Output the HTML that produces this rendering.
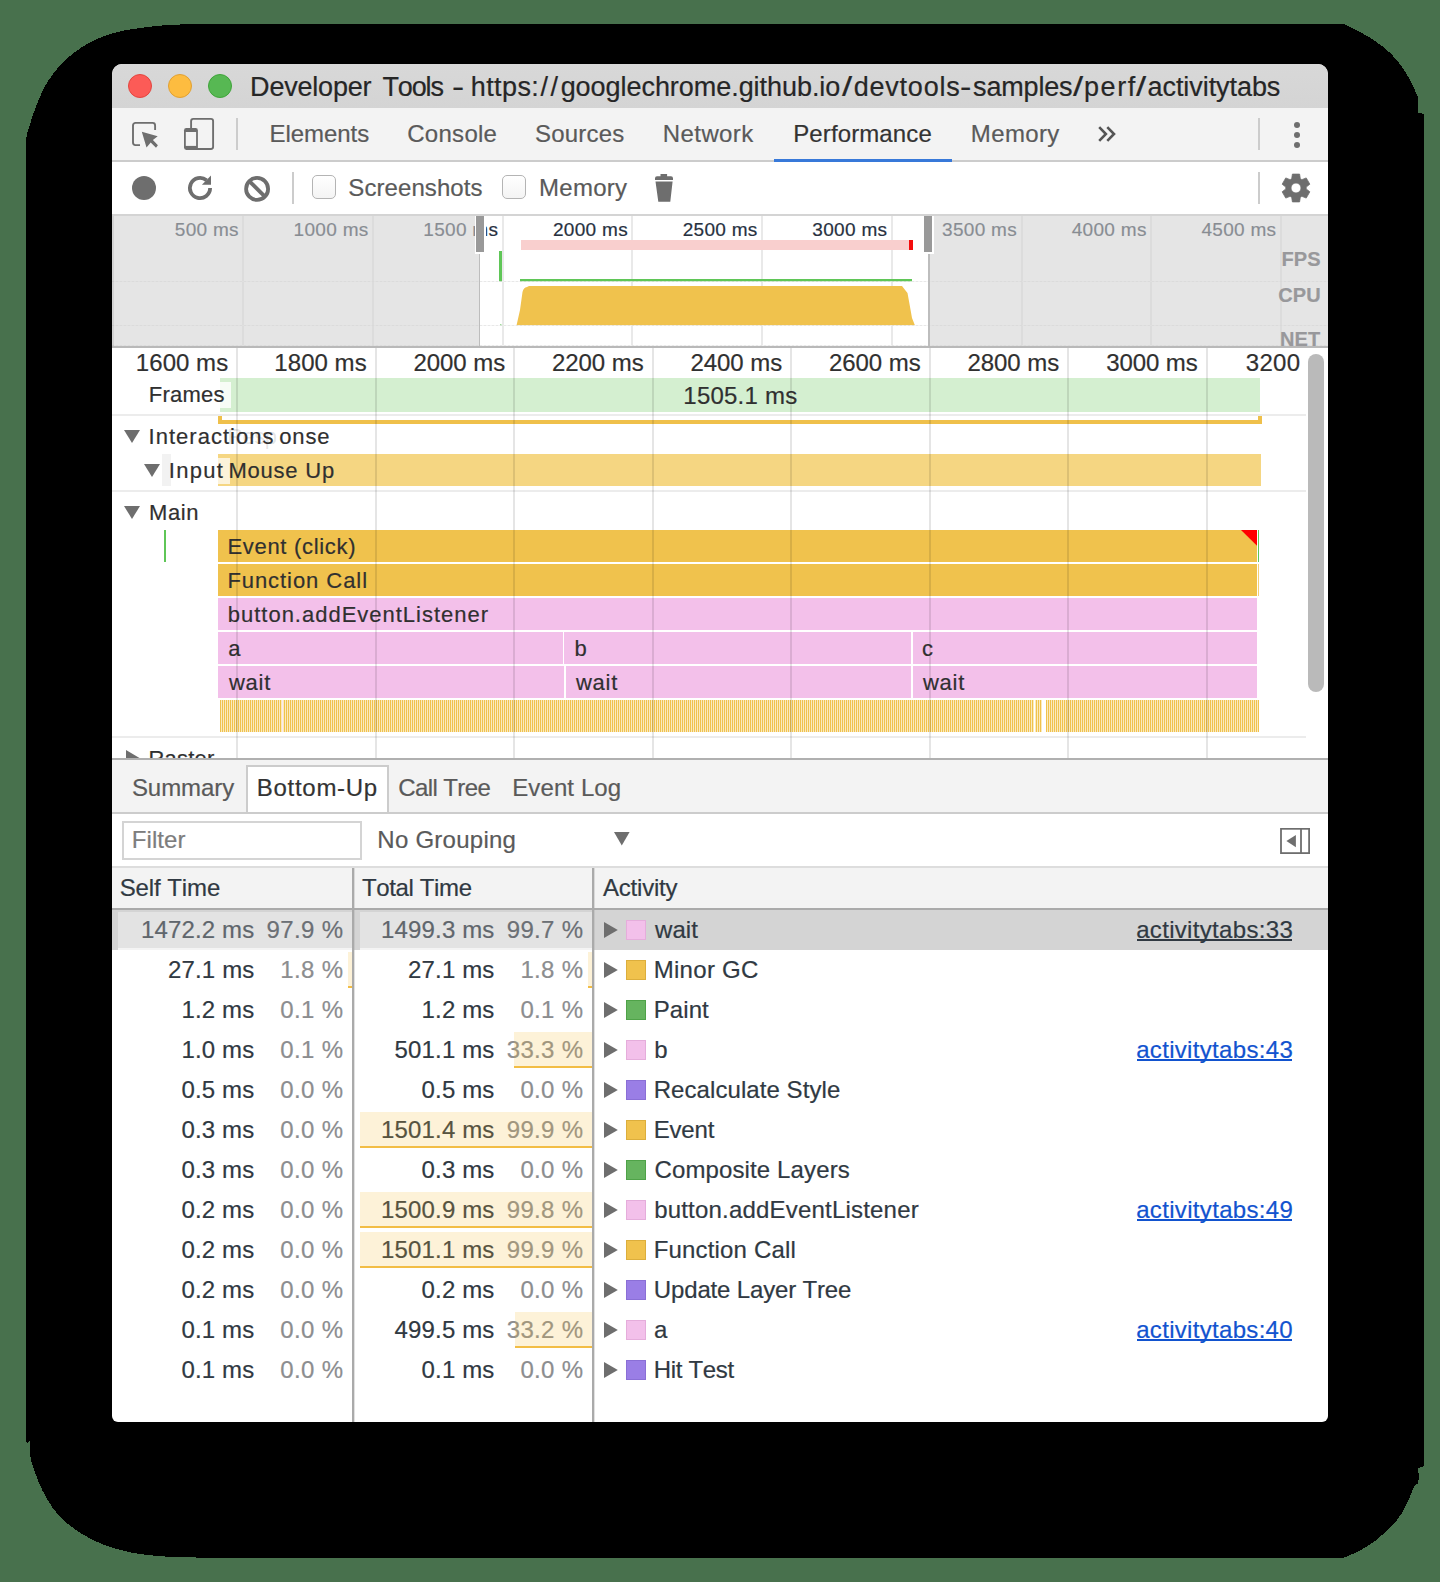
<!DOCTYPE html>
<html><head><meta charset="utf-8"><title>Developer Tools</title>
<style>
html,body{margin:0;padding:0}
body{width:1440px;height:1582px;overflow:hidden;background:#48714d;position:relative;font-family:"Liberation Sans",sans-serif}
#root div,#root span,#root svg{position:absolute;box-sizing:border-box}
#root span{white-space:pre;display:block;font-kerning:none;font-variant-ligatures:none;-webkit-text-stroke:0.2px}
#root{position:absolute;left:0;top:0;width:1440px;height:1582px;overflow:hidden}
</style></head><body><div id="root">
<svg style="left:0px;top:0px;" width="1440" height="1582" viewBox="0 0 1440 1582"><path d="M26,166 C26.0,161.7 25.2,147.2 26.0,140.0 C26.8,132.8 29.1,127.6 30.6,122.5 C32.1,117.4 32.6,115.4 35.0,109.3 C37.4,103.2 41.1,93.3 45.2,86.0 C49.3,78.7 54.9,71.2 59.8,65.6 C64.6,60.0 69.4,56.3 74.3,52.5 C79.2,48.7 84.0,45.7 88.9,43.0 C93.8,40.3 98.7,38.2 103.5,36.4 C108.3,34.6 113.1,33.2 118.0,32.0 C122.9,30.8 125.4,30.2 132.7,29.1 C140.0,28.0 152.1,26.3 161.8,25.5 C171.5,24.7 180.3,24.4 191.0,24.2 C201.7,23.9 220.2,24.0 226.0,24.0 L1343.75,24 C1346.7,25.5 1356.0,29.9 1361.3,32.8 C1366.6,35.7 1370.9,38.1 1375.8,41.5 C1380.7,44.9 1386.0,49.0 1390.4,53.2 C1394.8,57.5 1398.6,62.3 1402.0,67.0 C1405.4,71.7 1408.4,77.1 1410.8,81.6 C1413.2,86.1 1415.2,90.9 1416.5,94.0 C1417.8,97.1 1418.0,96.9 1418.3,100.0 C1418.6,103.1 1418.3,110.4 1418.3,112.5 L1424,114 L1424,1466 L1418.3,1468 C1418.3,1470.3 1419.0,1478.9 1418.3,1482.0 C1417.6,1485.1 1415.4,1484.0 1414.0,1486.4 C1412.6,1488.8 1411.6,1493.1 1410.1,1496.6 C1408.6,1500.1 1407.1,1503.7 1405.0,1507.5 C1402.9,1511.3 1400.4,1515.7 1397.7,1519.2 C1395.0,1522.7 1392.7,1525.1 1389.0,1528.6 C1385.3,1532.1 1380.4,1536.8 1375.8,1540.3 C1371.2,1543.8 1366.6,1546.9 1361.2,1549.8 C1355.9,1552.7 1346.7,1556.5 1343.8,1557.8 L226,1557.8 C217.7,1557.7 189.5,1557.6 176.4,1557.1 C163.3,1556.6 155.8,1555.9 147.2,1554.9 C138.8,1553.9 132.7,1553.0 125.4,1551.2 C118.1,1549.5 110.8,1547.6 103.5,1544.7 C96.2,1541.8 88.2,1537.8 81.6,1533.8 C75.0,1529.7 68.9,1525.0 64.1,1520.6 C59.2,1516.2 56.1,1512.6 52.5,1507.5 C48.9,1502.4 45.2,1495.8 42.2,1490.0 C39.3,1484.2 36.9,1477.8 35.0,1472.5 C33.1,1467.2 31.5,1463.0 30.6,1457.9 C29.8,1452.8 30.7,1445.0 29.9,1442.0 C29.1,1439.0 26.6,1447.0 26.0,1440.0 C25.4,1433.0 26.0,1406.7 26.0,1400.0 Z" fill="#000" shape-rendering="crispEdges"/></svg>
<div style="left:112px;top:64px;width:1216px;height:1358px;background:#fff;border-radius:10px 10px 6px 6px;overflow:hidden">
<div style="left:-112px;top:-64px;width:1440px;height:1582px">
<div style="left:112px;top:64px;width:1216px;height:44px;background:linear-gradient(#d8d8d8,#d4d4d4);"></div>
<div style="left:128px;top:74px;width:24px;height:24px;border-radius:12px;background:#fc5b57;border:1px solid #e2463f"></div>
<div style="left:168px;top:74px;width:24px;height:24px;border-radius:12px;background:#fdbc40;border:1px solid #e0a033"></div>
<div style="left:208px;top:74px;width:24px;height:24px;border-radius:12px;background:#57b853;border:1px solid #3fa43a"></div>
<span style="left:250.09px;top:71.50px;font-size:27px;line-height:30px;color:#262626;letter-spacing:-0.201px;">Developer</span>
<span style="left:382.49px;top:71.50px;font-size:27px;line-height:30px;color:#262626;letter-spacing:-1.135px;">Tools</span>
<span style="left:451.73px;top:71.50px;font-size:27px;line-height:30px;color:#262626;letter-spacing:0.000px;transform:scaleX(1.3500);transform-origin:0 0;">-</span>
<span style="left:470.73px;top:71.50px;font-size:27px;line-height:30px;color:#262626;letter-spacing:0.420px;">https:</span>
<span style="left:540.60px;top:71.50px;font-size:27px;line-height:30px;color:#262626;letter-spacing:2.500px;">//</span>
<span style="left:560.67px;top:71.50px;font-size:27px;line-height:30px;color:#262626;letter-spacing:-0.049px;">googlechrome.github.io</span>
<span style="left:842.24px;top:71.50px;font-size:27px;line-height:30px;color:#262626;letter-spacing:0.000px;transform:scaleX(1.3500);transform-origin:0 0;">/</span>
<span style="left:853.67px;top:71.50px;font-size:27px;line-height:30px;color:#262626;letter-spacing:0.792px;">devtools</span>
<span style="left:960.49px;top:71.50px;font-size:27px;line-height:30px;color:#262626;letter-spacing:0.000px;transform:scaleX(1.2591);transform-origin:0 0;">-</span>
<span style="left:973.05px;top:71.50px;font-size:27px;line-height:30px;color:#262626;letter-spacing:-0.169px;">samples</span>
<span style="left:1073.44px;top:71.50px;font-size:27px;line-height:30px;color:#262626;letter-spacing:0.000px;transform:scaleX(1.3500);transform-origin:0 0;">/</span>
<span style="left:1083.96px;top:71.50px;font-size:27px;line-height:30px;color:#262626;letter-spacing:1.592px;">perf</span>
<span style="left:1136.34px;top:71.50px;font-size:27px;line-height:30px;color:#262626;letter-spacing:0.000px;transform:scaleX(1.3500);transform-origin:0 0;">/</span>
<span style="left:1147.55px;top:71.50px;font-size:27px;line-height:30px;color:#262626;letter-spacing:-0.066px;">activitytabs</span>
<div style="left:112px;top:108px;width:1216px;height:52px;background:#f3f3f3;"></div>
<div style="left:112px;top:160px;width:1216px;height:2px;background:#cccccc;"></div>
<div style="left:774px;top:159px;width:178px;height:3px;background:#3879d9;"></div>
<span style="left:269.53px;top:119.60px;font-size:24px;line-height:27px;color:#5a5a5a;letter-spacing:-0.058px;">Elements</span>
<span style="left:407.28px;top:119.60px;font-size:24px;line-height:27px;color:#5a5a5a;letter-spacing:0.272px;">Console</span>
<span style="left:535.11px;top:119.60px;font-size:24px;line-height:27px;color:#5a5a5a;letter-spacing:0.169px;">Sources</span>
<span style="left:662.83px;top:119.60px;font-size:24px;line-height:27px;color:#5a5a5a;letter-spacing:0.402px;">Network</span>
<span style="left:793.23px;top:119.60px;font-size:24px;line-height:27px;color:#333333;letter-spacing:0.114px;">Performance</span>
<span style="left:970.83px;top:119.60px;font-size:24px;line-height:27px;color:#5a5a5a;letter-spacing:0.369px;">Memory</span>
<div style="left:236px;top:118px;width:2px;height:32px;background:#cccccc;"></div>
<div style="left:1258px;top:118px;width:2px;height:32px;background:#cccccc;"></div>
<svg style="left:130px;top:120px;" width="32" height="32" viewBox="0 0 32 32"><path d="M25.1,9.9 V5.4 a2.5,2.5 0 0 0 -2.5,-2.5 H5.5 a2.5,2.5 0 0 0 -2.5,2.5 V22.6 a2.5,2.5 0 0 0 2.5,2.5 H10" fill="none" stroke="#6e6e6e" stroke-width="1.9"/><path d="M11.8,11.8 L27.7,16.2 L22.9,19.9 L27.9,25.3 L26,27.7 L20.7,22.4 L16.5,27.4 Z" fill="#6e6e6e"/></svg>
<svg style="left:182px;top:116px;" width="36" height="36" viewBox="0 0 36 36"><rect x="9.1" y="2.9" width="22" height="30.1" rx="2.2" fill="none" stroke="#6e6e6e" stroke-width="1.9"/><rect x="2" y="12" width="13.9" height="21.9" rx="2.4" fill="#6e6e6e"/><rect x="3.8" y="16" width="10.3" height="13.9" fill="#f3f3f3"/></svg>
<svg style="left:1096px;top:124px;" width="24" height="20" viewBox="0 0 24 20"><path d="M3.2,3.2 L9.9,10 L3.2,16.8 M11.3,3.2 L18,10 L11.3,16.8" fill="none" stroke="#555555" stroke-width="2.6"/></svg>
<div style="left:1293.9px;top:121.9px;width:6.2px;height:6.2px;border-radius:3.1px;background:#6e6e6e"></div>
<div style="left:1293.9px;top:131.9px;width:6.2px;height:6.2px;border-radius:3.1px;background:#6e6e6e"></div>
<div style="left:1293.9px;top:141.9px;width:6.2px;height:6.2px;border-radius:3.1px;background:#6e6e6e"></div>
<div style="left:112px;top:162px;width:1216px;height:52px;background:#ffffff;"></div>
<div style="left:112px;top:214px;width:1216px;height:2px;background:#d4d4d4;"></div>
<div style="left:132px;top:176px;width:24px;height:24px;border-radius:12px;background:#6e6e6e"></div>
<svg style="left:180px;top:168px;" width="40" height="40" viewBox="0 0 40 40"><path d="M30.1,20 A10.1,10.1 0 1 1 26.5,12.3" fill="none" stroke="#6e6e6e" stroke-width="3.8"/><path d="M31,7.5 V16.8 H21.9 Z" fill="#6e6e6e"/></svg>
<svg style="left:237px;top:169px;" width="40" height="40" viewBox="0 0 40 40"><circle cx="20.1" cy="19.9" r="11" fill="none" stroke="#6e6e6e" stroke-width="3.8"/><path d="M12.3,12.1 L27.9,27.7" stroke="#6e6e6e" stroke-width="3.8"/></svg>
<div style="left:292px;top:172px;width:2px;height:32px;background:#cccccc;"></div>
<div style="left:1258px;top:172px;width:2px;height:32px;background:#cccccc;"></div>
<div style="left:312px;top:175px;width:24px;height:24px;border-radius:5px;background:linear-gradient(#ffffff,#f4f4f4);border:1.5px solid #b4b4b4"></div>
<div style="left:502px;top:175px;width:24px;height:24px;border-radius:5px;background:linear-gradient(#ffffff,#f4f4f4);border:1.5px solid #b4b4b4"></div>
<span style="left:348.31px;top:174.00px;font-size:24px;line-height:27px;color:#5a5a5a;letter-spacing:0.085px;">Screenshots</span>
<span style="left:539.03px;top:174.00px;font-size:24px;line-height:27px;color:#5a5a5a;letter-spacing:0.269px;">Memory</span>
<svg style="left:652px;top:172px;" width="24" height="32" viewBox="0 0 24 32"><path d="M8.5,2 H15.1 V5 H8.5 Z M3,8 V6.2 a2,2 0 0 1 2,-2 H19 a2,2 0 0 1 2,2 V8 Z M3.5,9.4 H20.6 L18.3,29.8 H6.3 Z" fill="#6e6e6e"/></svg>
<svg style="left:1280px;top:172px;" width="32" height="32" viewBox="0 0 32 32"><path d="M11.70,6.70 L12.40,2.10 L19.60,2.10 L20.30,6.70 L21.90,7.63 L26.24,5.93 L29.84,12.17 L26.20,15.07 L26.20,16.93 L29.84,19.83 L26.24,26.07 L21.90,24.37 L20.30,25.30 L19.60,29.90 L12.40,29.90 L11.70,25.30 L10.10,24.37 L5.76,26.07 L2.16,19.83 L5.80,16.93 L5.80,15.07 L2.16,12.17 L5.76,5.93 L10.10,7.63 Z M21.0,16 A5.0,5.0 0 1 0 11.0,16 A5.0,5.0 0 1 0 21.0,16 Z" fill="#6e6e6e" fill-rule="evenodd" stroke="#6e6e6e" stroke-width="0.8" stroke-linejoin="round"/></svg>
<div style="left:112px;top:216px;width:1216px;height:130px;background:#ffffff;"></div>
<div style="left:242px;top:216px;width:2px;height:130px;background:rgba(0,0,0,0.085);"></div>
<div style="left:372px;top:216px;width:2px;height:130px;background:rgba(0,0,0,0.085);"></div>
<div style="left:502px;top:216px;width:2px;height:130px;background:rgba(0,0,0,0.085);"></div>
<div style="left:631px;top:216px;width:2px;height:130px;background:rgba(0,0,0,0.085);"></div>
<div style="left:761px;top:216px;width:2px;height:130px;background:rgba(0,0,0,0.085);"></div>
<div style="left:891px;top:216px;width:2px;height:130px;background:rgba(0,0,0,0.085);"></div>
<div style="left:1021px;top:216px;width:2px;height:130px;background:rgba(0,0,0,0.085);"></div>
<div style="left:1150px;top:216px;width:2px;height:130px;background:rgba(0,0,0,0.085);"></div>
<div style="left:1280px;top:216px;width:2px;height:130px;background:rgba(0,0,0,0.085);"></div>
<div style="left:521px;top:240px;width:388px;height:10px;background:#f9cfce;"></div>
<div style="left:909px;top:240px;width:4px;height:10px;background:#f40c0c;"></div>
<div style="left:499px;top:251px;width:3px;height:31px;background:#5fc657;"></div>
<div style="left:520px;top:279px;width:392px;height:2.5px;background:#5fc657;"></div>
<svg style="left:500px;top:280px;" width="430" height="50" viewBox="0 0 430 50"><path d="M16.5,45.6 L20,30 L22.5,12 Q23.5,7.5 27,7 L29,6 L402,6 L405.5,10.5 L407.5,13 L409.5,24 L412,38 L415,45.6 Z" fill="#f0c24d"/><path d="M-6,45.6 L0,44.2 L4,45.6Z" fill="#5fc657"/></svg>
<div style="left:112px;top:280.5px;width:1216px;height:1px;background:repeating-linear-gradient(90deg,#e2e2e2 0 2px,#f2f2f2 2px 4px);opacity:.8"></div>
<div style="left:112px;top:324.5px;width:1216px;height:1px;background:repeating-linear-gradient(90deg,#e2e2e2 0 2px,#f2f2f2 2px 4px);opacity:.8"></div>
<div style="left:112px;top:344.5px;width:1216px;height:1px;background:repeating-linear-gradient(90deg,#e2e2e2 0 2px,#f2f2f2 2px 4px);opacity:.8"></div>
<span style="left:174.78px;top:219.00px;font-size:19px;line-height:21px;color:#27313f;letter-spacing:0.300px;">500 ms</span>
<span style="left:293.60px;top:219.00px;font-size:19px;line-height:21px;color:#27313f;letter-spacing:0.300px;">1000 ms</span>
<span style="left:423.29px;top:219.00px;font-size:19px;line-height:21px;color:#27313f;letter-spacing:0.300px;">1500 ms</span>
<span style="left:552.98px;top:219.00px;font-size:19px;line-height:21px;color:#27313f;letter-spacing:0.300px;">2000 ms</span>
<span style="left:682.67px;top:219.00px;font-size:19px;line-height:21px;color:#27313f;letter-spacing:0.300px;">2500 ms</span>
<span style="left:812.36px;top:219.00px;font-size:19px;line-height:21px;color:#27313f;letter-spacing:0.300px;">3000 ms</span>
<span style="left:942.05px;top:219.00px;font-size:19px;line-height:21px;color:#27313f;letter-spacing:0.300px;">3500 ms</span>
<span style="left:1071.74px;top:219.00px;font-size:19px;line-height:21px;color:#27313f;letter-spacing:0.300px;">4000 ms</span>
<span style="left:1201.43px;top:219.00px;font-size:19px;line-height:21px;color:#27313f;letter-spacing:0.300px;">4500 ms</span>
<div style="left:112px;top:216px;width:367px;height:130px;background:rgba(209,209,209,0.57);"></div>
<div style="left:929px;top:216px;width:399px;height:130px;background:rgba(209,209,209,0.57);"></div>
<div style="left:478.5px;top:216px;width:1.5px;height:130px;background:#bdbdbd;"></div>
<div style="left:928px;top:216px;width:1.5px;height:130px;background:#bdbdbd;"></div>
<div style="left:474.5px;top:216px;width:11px;height:37.5px;background:#ffffff;"></div>
<div style="left:476px;top:216px;width:8px;height:36px;background:#999999;"></div>
<div style="left:922.5px;top:216px;width:11px;height:37.5px;background:#ffffff;"></div>
<div style="left:924px;top:216px;width:8px;height:36px;background:#999999;"></div>
<div style="left:112px;top:216px;width:2px;height:130px;background:rgba(0,0,0,0.08);"></div>
<span style="left:1281.48px;top:247.50px;font-size:20px;line-height:22px;color:#98989b;letter-spacing:0.100px;font-weight:bold;">FPS</span>
<span style="left:1278.29px;top:283.50px;font-size:20px;line-height:22px;color:#98989b;letter-spacing:0.100px;font-weight:bold;">CPU</span>
<span style="left:1280.01px;top:327.80px;font-size:20px;line-height:22px;color:#98989b;letter-spacing:0.100px;font-weight:bold;">NET</span>
<div style="left:112px;top:346px;width:1216px;height:2px;background:#b9b9b9;"></div>
<span style="left:135.87px;top:348.80px;font-size:24px;line-height:27px;color:#303030;letter-spacing:0.041px;">1600 ms</span>
<span style="left:274.37px;top:348.80px;font-size:24px;line-height:27px;color:#303030;letter-spacing:0.041px;">1800 ms</span>
<span style="left:413.49px;top:348.80px;font-size:24px;line-height:27px;color:#303030;letter-spacing:-0.063px;">2000 ms</span>
<span style="left:551.99px;top:348.80px;font-size:24px;line-height:27px;color:#303030;letter-spacing:-0.063px;">2200 ms</span>
<span style="left:690.49px;top:348.80px;font-size:24px;line-height:27px;color:#303030;letter-spacing:-0.063px;">2400 ms</span>
<span style="left:828.99px;top:348.80px;font-size:24px;line-height:27px;color:#303030;letter-spacing:-0.063px;">2600 ms</span>
<span style="left:967.49px;top:348.80px;font-size:24px;line-height:27px;color:#303030;letter-spacing:-0.063px;">2800 ms</span>
<span style="left:1106.29px;top:348.80px;font-size:24px;line-height:27px;color:#303030;letter-spacing:-0.112px;">3000 ms</span>
<span style="left:1245.79px;top:348.80px;font-size:24px;line-height:27px;color:#303030;letter-spacing:0.320px;">3200</span>
<div style="left:220px;top:378px;width:1040px;height:34px;background:#d4efd0;"></div>
<div style="left:220px;top:382px;width:11px;height:26px;background:rgba(255,255,255,0.8);"></div>
<span style="left:683.37px;top:381.80px;font-size:24px;line-height:27px;color:#303030;letter-spacing:0.216px;">1505.1 ms</span>
<span style="left:148.70px;top:381.70px;font-size:22px;line-height:25px;color:#303030;letter-spacing:0.258px;">Frames</span>
<div style="left:112px;top:414px;width:1194px;height:2px;background:#ececec;"></div>
<div style="left:218px;top:420px;width:1044px;height:4px;background:#efc04b;"></div>
<div style="left:218px;top:416px;width:4px;height:8px;background:#efc04b;"></div>
<div style="left:1258px;top:416px;width:4px;height:8px;background:#efc04b;"></div>
<svg style="left:124px;top:430px;" width="16" height="13" viewBox="0 0 16 13"><path d="M0,0 H16 L8,13 Z" fill="#6e6e6e"/></svg>
<span style="left:279.28px;top:424.20px;font-size:22px;line-height:25px;color:#303030;letter-spacing:0.832px;">onse</span>
<span style="left:227.20px;top:424.20px;font-size:22px;line-height:25px;color:rgba(48,48,48,0.13);letter-spacing:-0.543px;">Resp</span>
<span style="left:148.57px;top:424.20px;font-size:22px;line-height:25px;color:#303030;letter-spacing:1.018px;">Interactions</span>
<div style="left:218px;top:454px;width:1043px;height:32px;background:#f5d682;"></div>
<div style="left:218px;top:458px;width:12px;height:26px;background:rgba(255,255,255,0.7);"></div>
<div style="left:162px;top:454px;width:9px;height:32px;background:rgba(0,0,0,0.05);"></div>
<svg style="left:144px;top:464.2px;" width="16" height="13" viewBox="0 0 16 13"><path d="M0,0 H16 L8,13 Z" fill="#6e6e6e"/></svg>
<span style="left:168.77px;top:457.60px;font-size:22px;line-height:25px;color:#303030;letter-spacing:1.290px;">Input</span>
<span style="left:228.40px;top:457.60px;font-size:22px;line-height:25px;color:#303030;letter-spacing:0.780px;">Mouse Up</span>
<div style="left:112px;top:490px;width:1194px;height:2px;background:#ececec;"></div>
<svg style="left:124px;top:506px;" width="16" height="13" viewBox="0 0 16 13"><path d="M0,0 H16 L8,13 Z" fill="#6e6e6e"/></svg>
<span style="left:149.00px;top:500.00px;font-size:22px;line-height:25px;color:#303030;letter-spacing:0.583px;">Main</span>
<div style="left:164px;top:530px;width:1.5px;height:32px;background:#5fc657;"></div>
<div style="left:218px;top:530px;width:1039px;height:32px;background:#f0c24d;"></div>
<div style="left:218px;top:564px;width:1039px;height:32px;background:#f0c24d;"></div>
<div style="left:1258px;top:564px;width:1.3px;height:32px;background:#f3cf74;"></div>
<div style="left:218px;top:598px;width:1039px;height:32px;background:#f3c0ea;"></div>
<div style="left:218px;top:632px;width:344.8px;height:32px;background:#f3c0ea;"></div>
<div style="left:564.3px;top:632px;width:346.7px;height:32px;background:#f3c0ea;"></div>
<div style="left:912.5px;top:632px;width:344.5px;height:32px;background:#f3c0ea;"></div>
<div style="left:218px;top:666px;width:345.5px;height:32px;background:#f3c0ea;"></div>
<div style="left:566.3px;top:666px;width:344.7px;height:32px;background:#f3c0ea;"></div>
<div style="left:912.5px;top:666px;width:344.5px;height:32px;background:#f3c0ea;"></div>
<span style="left:227.40px;top:533.50px;font-size:22px;line-height:25px;color:#303030;letter-spacing:0.698px;">Event (click)</span>
<span style="left:227.40px;top:567.50px;font-size:22px;line-height:25px;color:#303030;letter-spacing:0.940px;">Function Call</span>
<span style="left:227.78px;top:601.50px;font-size:22px;line-height:25px;color:#303030;letter-spacing:0.990px;">button.addEventListener</span>
<span style="left:228.27px;top:635.50px;font-size:22px;line-height:25px;color:#303030;letter-spacing:0.000px;">a</span>
<span style="left:574.58px;top:635.50px;font-size:22px;line-height:25px;color:#303030;letter-spacing:0.000px;">b</span>
<span style="left:922.07px;top:635.50px;font-size:22px;line-height:25px;color:#303030;letter-spacing:0.000px;">c</span>
<span style="left:229.03px;top:669.50px;font-size:22px;line-height:25px;color:#303030;letter-spacing:0.700px;">wait</span>
<span style="left:576.03px;top:669.50px;font-size:22px;line-height:25px;color:#303030;letter-spacing:0.700px;">wait</span>
<span style="left:923.03px;top:669.50px;font-size:22px;line-height:25px;color:#303030;letter-spacing:0.700px;">wait</span>
<svg style="left:1241px;top:530px;" width="16" height="16" viewBox="0 0 16 16"><path d="M0,0 H16 V15.8 Z" fill="#ff0000"/></svg>
<div style="left:1258px;top:530px;width:1.4px;height:32px;background:#5fc657;"></div>
<div style="left:220px;top:700px;width:1039.4px;height:32px;background:repeating-linear-gradient(90deg,#f0c24d 0 1px,#faeabf 1px 2px)"></div>
<div style="left:281.5px;top:700px;width:1.5px;height:32px;background:#fbe9ee;"></div>
<div style="left:1033.5px;top:700px;width:1.5px;height:32px;background:#ffffff;"></div>
<div style="left:1041.5px;top:700px;width:4px;height:32px;background:#ffffff;"></div>
<div style="left:112px;top:736.3px;width:1194px;height:2px;background:#ececec;"></div>
<svg style="left:126px;top:750.4px;" width="14" height="16" viewBox="0 0 14 16"><path d="M0,0 V16 L13.5,8 Z" fill="#6e6e6e"/></svg>
<span style="left:148.40px;top:745.50px;font-size:22px;line-height:25px;color:#303030;letter-spacing:0.235px;">Raster</span>
<div style="left:236.0px;top:348px;width:2px;height:410px;background:rgba(0,0,0,0.10);"></div>
<div style="left:374.5px;top:348px;width:2px;height:410px;background:rgba(0,0,0,0.10);"></div>
<div style="left:513.0px;top:348px;width:2px;height:410px;background:rgba(0,0,0,0.10);"></div>
<div style="left:651.5px;top:348px;width:2px;height:410px;background:rgba(0,0,0,0.10);"></div>
<div style="left:790.0px;top:348px;width:2px;height:410px;background:rgba(0,0,0,0.10);"></div>
<div style="left:928.5px;top:348px;width:2px;height:410px;background:rgba(0,0,0,0.10);"></div>
<div style="left:1067.0px;top:348px;width:2px;height:410px;background:rgba(0,0,0,0.10);"></div>
<div style="left:1205.5px;top:348px;width:2px;height:410px;background:rgba(0,0,0,0.10);"></div>
<div style="left:1308px;top:354px;width:16px;height:338px;border-radius:8px;background:#bababa"></div>
<div style="left:112px;top:758px;width:1216px;height:2.5px;background:#b0b0b0;"></div>
<div style="left:112px;top:760px;width:1216px;height:52px;background:#f3f3f3;"></div>
<div style="left:246px;top:764.5px;width:143px;height:49.5px;background:#ffffff;border:2px solid #cccccc;border-bottom:none"></div>
<div style="left:112px;top:812px;width:1216px;height:2px;background:#cccccc;"></div>
<span style="left:131.91px;top:774.20px;font-size:24px;line-height:27px;color:#5a5a5a;letter-spacing:-0.057px;">Summary</span>
<span style="left:256.83px;top:774.20px;font-size:24px;line-height:27px;color:#333333;letter-spacing:0.709px;">Bottom-Up</span>
<span style="left:398.28px;top:774.20px;font-size:24px;line-height:27px;color:#5a5a5a;letter-spacing:-0.597px;">Call Tree</span>
<span style="left:512.23px;top:774.20px;font-size:24px;line-height:27px;color:#5a5a5a;letter-spacing:0.104px;">Event Log</span>
<div style="left:112px;top:814px;width:1216px;height:52px;background:#ffffff;"></div>
<div style="left:122px;top:820.5px;width:240px;height:39px;background:#ffffff;border:2px solid #d4d4d4"></div>
<span style="left:131.83px;top:825.50px;font-size:24px;line-height:27px;color:#7d7d7d;letter-spacing:0.047px;">Filter</span>
<span style="left:377.33px;top:825.50px;font-size:24px;line-height:27px;color:#5a5a5a;letter-spacing:0.254px;">No Grouping</span>
<svg style="left:614.4px;top:832.3px;" width="16" height="14" viewBox="0 0 16 14"><path d="M0,0 H15.6 L7.8,13.5 Z" fill="#6e6e6e"/></svg>
<svg style="left:1280px;top:828px;" width="32" height="28" viewBox="0 0 32 28"><rect x="1" y="0.8" width="28.1" height="24.3" fill="none" stroke="#6e6e6e" stroke-width="1.8"/><path d="M21,0.8 V25.1" stroke="#6e6e6e" stroke-width="1.8"/><path d="M15.9,6.9 V19.2 L6.4,13 Z" fill="#6e6e6e"/></svg>
<div style="left:112px;top:866px;width:1216px;height:2px;background:#dddddd;"></div>
<div style="left:112px;top:868px;width:1216px;height:40px;background:#f3f3f3;"></div>
<span style="left:119.71px;top:874.20px;font-size:24px;line-height:27px;color:#303942;letter-spacing:-0.100px;">Self Time</span>
<span style="left:361.96px;top:874.20px;font-size:24px;line-height:27px;color:#303942;letter-spacing:-0.361px;">Total Time</span>
<span style="left:602.95px;top:874.20px;font-size:24px;line-height:27px;color:#303942;letter-spacing:-0.200px;">Activity</span>
<div style="left:112px;top:908px;width:1216px;height:2px;background:#aaaaaa;"></div>
<div style="left:112px;top:910px;width:1216px;height:40px;background:#d4d4d4;"></div>
<div style="left:118px;top:911.5px;width:234px;height:36px;background:#e3e3e3;"></div>
<div style="left:118px;top:947.5px;width:234px;height:2.5px;background:#f4f4f4;"></div>
<div style="left:360px;top:911.5px;width:232px;height:36px;background:#e3e3e3;"></div>
<div style="left:360px;top:947.5px;width:232px;height:2.5px;background:#f4f4f4;"></div>
<span style="left:141.00px;top:915.50px;font-size:24px;line-height:27px;color:#60666c;letter-spacing:0.150px;">1472.2 ms</span>
<span style="left:266.59px;top:915.50px;font-size:24px;line-height:27px;color:#6c7075;letter-spacing:0.350px;">97.9 %</span>
<span style="left:381.10px;top:915.50px;font-size:24px;line-height:27px;color:#60666c;letter-spacing:0.150px;">1499.3 ms</span>
<span style="left:506.69px;top:915.50px;font-size:24px;line-height:27px;color:#6c7075;letter-spacing:0.350px;">99.7 %</span>
<svg style="left:604.2px;top:921.9px;" width="14" height="16" viewBox="0 0 14 16"><path d="M0,0 V16 L13.8,8 Z" fill="#6e6e6e"/></svg>
<div style="left:626px;top:920px;width:20px;height:20px;background:#f3c0ea;border:1px solid #e5addb"></div>
<span style="left:654.94px;top:915.50px;font-size:24px;line-height:27px;color:#303942;letter-spacing:0.120px;">wait</span>
<span style="left:1136.18px;top:916.20px;font-size:24px;line-height:27px;color:#303942;letter-spacing:0.321px;">activitytabs:33</span>
<div style="left:1136.7px;top:938.9px;width:155px;height:2.3px;background:#303942;"></div>
<span style="left:168.00px;top:955.50px;font-size:24px;line-height:27px;color:#303942;letter-spacing:0.150px;">27.1 ms</span>
<span style="left:280.28px;top:955.50px;font-size:24px;line-height:27px;color:#8c8d8f;letter-spacing:0.350px;">1.8 %</span>
<span style="left:408.10px;top:955.50px;font-size:24px;line-height:27px;color:#303942;letter-spacing:0.150px;">27.1 ms</span>
<span style="left:520.38px;top:955.50px;font-size:24px;line-height:27px;color:#8c8d8f;letter-spacing:0.350px;">1.8 %</span>
<div style="left:348.2px;top:952px;width:3.8000000000000114px;height:33.5px;background:rgba(247,192,60,0.2);"></div>
<div style="left:348.2px;top:985.5px;width:3.8000000000000114px;height:2.4px;background:#f2bd45;"></div>
<div style="left:588px;top:952px;width:4px;height:33.5px;background:rgba(247,192,60,0.2);"></div>
<div style="left:588px;top:985.5px;width:4px;height:2.4px;background:#f2bd45;"></div>
<svg style="left:604.2px;top:961.9px;" width="14" height="16" viewBox="0 0 14 16"><path d="M0,0 V16 L13.8,8 Z" fill="#6e6e6e"/></svg>
<div style="left:626px;top:960px;width:20px;height:20px;background:#f0c24d;border:1px solid #dcae3c"></div>
<span style="left:653.73px;top:955.50px;font-size:24px;line-height:27px;color:#303942;letter-spacing:0.286px;">Minor GC</span>
<span style="left:181.49px;top:995.50px;font-size:24px;line-height:27px;color:#303942;letter-spacing:0.150px;">1.2 ms</span>
<span style="left:280.28px;top:995.50px;font-size:24px;line-height:27px;color:#8c8d8f;letter-spacing:0.350px;">0.1 %</span>
<span style="left:421.59px;top:995.50px;font-size:24px;line-height:27px;color:#303942;letter-spacing:0.150px;">1.2 ms</span>
<span style="left:520.38px;top:995.50px;font-size:24px;line-height:27px;color:#8c8d8f;letter-spacing:0.350px;">0.1 %</span>
<svg style="left:604.2px;top:1001.9px;" width="14" height="16" viewBox="0 0 14 16"><path d="M0,0 V16 L13.8,8 Z" fill="#6e6e6e"/></svg>
<div style="left:626px;top:1000px;width:20px;height:20px;background:#66b45f;border:1px solid #4fa248"></div>
<span style="left:653.73px;top:995.50px;font-size:24px;line-height:27px;color:#303942;letter-spacing:0.085px;">Paint</span>
<span style="left:181.49px;top:1035.50px;font-size:24px;line-height:27px;color:#303942;letter-spacing:0.150px;">1.0 ms</span>
<span style="left:280.28px;top:1035.50px;font-size:24px;line-height:27px;color:#8c8d8f;letter-spacing:0.350px;">0.1 %</span>
<span style="left:394.60px;top:1035.50px;font-size:24px;line-height:27px;color:#303942;letter-spacing:0.150px;">501.1 ms</span>
<span style="left:506.69px;top:1035.50px;font-size:24px;line-height:27px;color:#8c8d8f;letter-spacing:0.350px;">33.3 %</span>
<div style="left:514px;top:1032px;width:78px;height:33.5px;background:rgba(247,192,60,0.2);"></div>
<div style="left:514px;top:1065.5px;width:78px;height:2.4px;background:#f2bd45;"></div>
<svg style="left:604.2px;top:1041.9px;" width="14" height="16" viewBox="0 0 14 16"><path d="M0,0 V16 L13.8,8 Z" fill="#6e6e6e"/></svg>
<div style="left:626px;top:1040px;width:20px;height:20px;background:#f3c0ea;border:1px solid #e5addb"></div>
<span style="left:654.15px;top:1035.50px;font-size:24px;line-height:27px;color:#303942;letter-spacing:0.000px;">b</span>
<span style="left:1136.18px;top:1036.20px;font-size:24px;line-height:27px;color:#1253cf;letter-spacing:0.321px;">activitytabs:43</span>
<div style="left:1136.7px;top:1058.9px;width:155px;height:2.3px;background:#1253cf;"></div>
<span style="left:181.49px;top:1075.50px;font-size:24px;line-height:27px;color:#303942;letter-spacing:0.150px;">0.5 ms</span>
<span style="left:280.28px;top:1075.50px;font-size:24px;line-height:27px;color:#8c8d8f;letter-spacing:0.350px;">0.0 %</span>
<span style="left:421.59px;top:1075.50px;font-size:24px;line-height:27px;color:#303942;letter-spacing:0.150px;">0.5 ms</span>
<span style="left:520.38px;top:1075.50px;font-size:24px;line-height:27px;color:#8c8d8f;letter-spacing:0.350px;">0.0 %</span>
<svg style="left:604.2px;top:1081.9px;" width="14" height="16" viewBox="0 0 14 16"><path d="M0,0 V16 L13.8,8 Z" fill="#6e6e6e"/></svg>
<div style="left:626px;top:1080px;width:20px;height:20px;background:#9a7ee6;border:1px solid #8a6fd6"></div>
<span style="left:653.73px;top:1075.50px;font-size:24px;line-height:27px;color:#303942;letter-spacing:0.069px;">Recalculate Style</span>
<span style="left:181.49px;top:1115.50px;font-size:24px;line-height:27px;color:#303942;letter-spacing:0.150px;">0.3 ms</span>
<span style="left:280.28px;top:1115.50px;font-size:24px;line-height:27px;color:#8c8d8f;letter-spacing:0.350px;">0.0 %</span>
<span style="left:381.10px;top:1115.50px;font-size:24px;line-height:27px;color:#303942;letter-spacing:0.150px;">1501.4 ms</span>
<span style="left:506.69px;top:1115.50px;font-size:24px;line-height:27px;color:#8c8d8f;letter-spacing:0.350px;">99.9 %</span>
<div style="left:360px;top:1112px;width:232px;height:33.5px;background:rgba(247,192,60,0.2);"></div>
<div style="left:360px;top:1145.5px;width:232px;height:2.4px;background:#f2bd45;"></div>
<svg style="left:604.2px;top:1121.9px;" width="14" height="16" viewBox="0 0 14 16"><path d="M0,0 V16 L13.8,8 Z" fill="#6e6e6e"/></svg>
<div style="left:626px;top:1120px;width:20px;height:20px;background:#f0c24d;border:1px solid #dcae3c"></div>
<span style="left:653.73px;top:1115.50px;font-size:24px;line-height:27px;color:#303942;letter-spacing:-0.182px;">Event</span>
<span style="left:181.49px;top:1155.50px;font-size:24px;line-height:27px;color:#303942;letter-spacing:0.150px;">0.3 ms</span>
<span style="left:280.28px;top:1155.50px;font-size:24px;line-height:27px;color:#8c8d8f;letter-spacing:0.350px;">0.0 %</span>
<span style="left:421.59px;top:1155.50px;font-size:24px;line-height:27px;color:#303942;letter-spacing:0.150px;">0.3 ms</span>
<span style="left:520.38px;top:1155.50px;font-size:24px;line-height:27px;color:#8c8d8f;letter-spacing:0.350px;">0.0 %</span>
<svg style="left:604.2px;top:1161.9px;" width="14" height="16" viewBox="0 0 14 16"><path d="M0,0 V16 L13.8,8 Z" fill="#6e6e6e"/></svg>
<div style="left:626px;top:1160px;width:20px;height:20px;background:#66b45f;border:1px solid #4fa248"></div>
<span style="left:654.48px;top:1155.50px;font-size:24px;line-height:27px;color:#303942;letter-spacing:0.125px;">Composite Layers</span>
<span style="left:181.49px;top:1195.50px;font-size:24px;line-height:27px;color:#303942;letter-spacing:0.150px;">0.2 ms</span>
<span style="left:280.28px;top:1195.50px;font-size:24px;line-height:27px;color:#8c8d8f;letter-spacing:0.350px;">0.0 %</span>
<span style="left:381.10px;top:1195.50px;font-size:24px;line-height:27px;color:#303942;letter-spacing:0.150px;">1500.9 ms</span>
<span style="left:506.69px;top:1195.50px;font-size:24px;line-height:27px;color:#8c8d8f;letter-spacing:0.350px;">99.8 %</span>
<div style="left:360px;top:1192px;width:232px;height:33.5px;background:rgba(247,192,60,0.2);"></div>
<div style="left:360px;top:1225.5px;width:232px;height:2.4px;background:#f2bd45;"></div>
<svg style="left:604.2px;top:1201.9px;" width="14" height="16" viewBox="0 0 14 16"><path d="M0,0 V16 L13.8,8 Z" fill="#6e6e6e"/></svg>
<div style="left:626px;top:1200px;width:20px;height:20px;background:#f3c0ea;border:1px solid #e5addb"></div>
<span style="left:654.15px;top:1195.50px;font-size:24px;line-height:27px;color:#303942;letter-spacing:0.198px;">button.addEventListener</span>
<span style="left:1136.18px;top:1196.20px;font-size:24px;line-height:27px;color:#1253cf;letter-spacing:0.327px;">activitytabs:49</span>
<div style="left:1136.7px;top:1218.9px;width:155px;height:2.3px;background:#1253cf;"></div>
<span style="left:181.49px;top:1235.50px;font-size:24px;line-height:27px;color:#303942;letter-spacing:0.150px;">0.2 ms</span>
<span style="left:280.28px;top:1235.50px;font-size:24px;line-height:27px;color:#8c8d8f;letter-spacing:0.350px;">0.0 %</span>
<span style="left:381.10px;top:1235.50px;font-size:24px;line-height:27px;color:#303942;letter-spacing:0.150px;">1501.1 ms</span>
<span style="left:506.69px;top:1235.50px;font-size:24px;line-height:27px;color:#8c8d8f;letter-spacing:0.350px;">99.9 %</span>
<div style="left:360px;top:1232px;width:232px;height:33.5px;background:rgba(247,192,60,0.2);"></div>
<div style="left:360px;top:1265.5px;width:232px;height:2.4px;background:#f2bd45;"></div>
<svg style="left:604.2px;top:1241.9px;" width="14" height="16" viewBox="0 0 14 16"><path d="M0,0 V16 L13.8,8 Z" fill="#6e6e6e"/></svg>
<div style="left:626px;top:1240px;width:20px;height:20px;background:#f0c24d;border:1px solid #dcae3c"></div>
<span style="left:653.73px;top:1235.50px;font-size:24px;line-height:27px;color:#303942;letter-spacing:0.168px;">Function Call</span>
<span style="left:181.49px;top:1275.50px;font-size:24px;line-height:27px;color:#303942;letter-spacing:0.150px;">0.2 ms</span>
<span style="left:280.28px;top:1275.50px;font-size:24px;line-height:27px;color:#8c8d8f;letter-spacing:0.350px;">0.0 %</span>
<span style="left:421.59px;top:1275.50px;font-size:24px;line-height:27px;color:#303942;letter-spacing:0.150px;">0.2 ms</span>
<span style="left:520.38px;top:1275.50px;font-size:24px;line-height:27px;color:#8c8d8f;letter-spacing:0.350px;">0.0 %</span>
<svg style="left:604.2px;top:1281.9px;" width="14" height="16" viewBox="0 0 14 16"><path d="M0,0 V16 L13.8,8 Z" fill="#6e6e6e"/></svg>
<div style="left:626px;top:1280px;width:20px;height:20px;background:#9a7ee6;border:1px solid #8a6fd6"></div>
<span style="left:653.85px;top:1275.50px;font-size:24px;line-height:27px;color:#303942;letter-spacing:-0.162px;">Update Layer Tree</span>
<span style="left:181.49px;top:1315.50px;font-size:24px;line-height:27px;color:#303942;letter-spacing:0.150px;">0.1 ms</span>
<span style="left:280.28px;top:1315.50px;font-size:24px;line-height:27px;color:#8c8d8f;letter-spacing:0.350px;">0.0 %</span>
<span style="left:394.60px;top:1315.50px;font-size:24px;line-height:27px;color:#303942;letter-spacing:0.150px;">499.5 ms</span>
<span style="left:506.69px;top:1315.50px;font-size:24px;line-height:27px;color:#8c8d8f;letter-spacing:0.350px;">33.2 %</span>
<div style="left:514.5px;top:1312px;width:77.5px;height:33.5px;background:rgba(247,192,60,0.2);"></div>
<div style="left:514.5px;top:1345.5px;width:77.5px;height:2.4px;background:#f2bd45;"></div>
<svg style="left:604.2px;top:1321.9px;" width="14" height="16" viewBox="0 0 14 16"><path d="M0,0 V16 L13.8,8 Z" fill="#6e6e6e"/></svg>
<div style="left:626px;top:1320px;width:20px;height:20px;background:#f3c0ea;border:1px solid #e5addb"></div>
<span style="left:653.88px;top:1315.50px;font-size:24px;line-height:27px;color:#303942;letter-spacing:0.000px;">a</span>
<span style="left:1136.18px;top:1316.20px;font-size:24px;line-height:27px;color:#1253cf;letter-spacing:0.313px;">activitytabs:40</span>
<div style="left:1136.7px;top:1338.9px;width:155px;height:2.3px;background:#1253cf;"></div>
<span style="left:181.49px;top:1355.50px;font-size:24px;line-height:27px;color:#303942;letter-spacing:0.150px;">0.1 ms</span>
<span style="left:280.28px;top:1355.50px;font-size:24px;line-height:27px;color:#8c8d8f;letter-spacing:0.350px;">0.0 %</span>
<span style="left:421.59px;top:1355.50px;font-size:24px;line-height:27px;color:#303942;letter-spacing:0.150px;">0.1 ms</span>
<span style="left:520.38px;top:1355.50px;font-size:24px;line-height:27px;color:#8c8d8f;letter-spacing:0.350px;">0.0 %</span>
<svg style="left:604.2px;top:1361.9px;" width="14" height="16" viewBox="0 0 14 16"><path d="M0,0 V16 L13.8,8 Z" fill="#6e6e6e"/></svg>
<div style="left:626px;top:1360px;width:20px;height:20px;background:#9a7ee6;border:1px solid #8a6fd6"></div>
<span style="left:653.73px;top:1355.50px;font-size:24px;line-height:27px;color:#303942;letter-spacing:-0.333px;">Hit Test</span>
<div style="left:352px;top:868px;width:2px;height:554px;background:#aaaaaa;"></div>
<div style="left:354px;top:868px;width:1px;height:554px;background:rgba(170,170,170,0.35);"></div>
<div style="left:592px;top:868px;width:2px;height:554px;background:#aaaaaa;"></div>
<div style="left:594px;top:868px;width:1px;height:554px;background:rgba(170,170,170,0.35);"></div>
</div></div>
</div></body></html>
